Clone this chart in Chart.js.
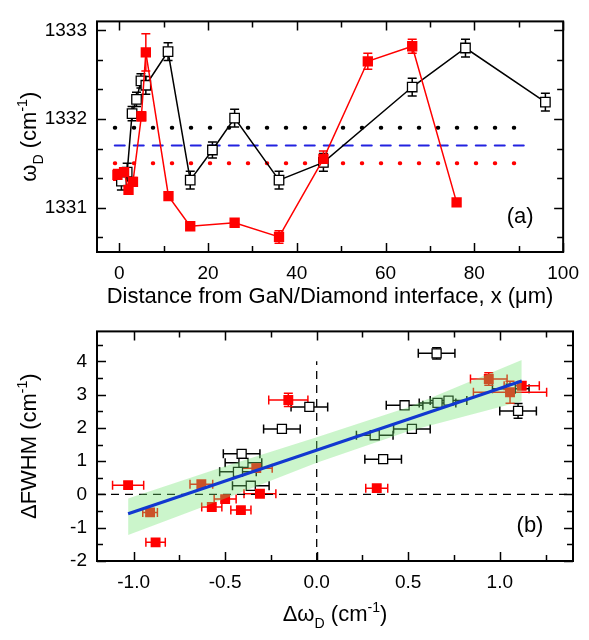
<!DOCTYPE html>
<html>
<head>
<meta charset="utf-8">
<title>Raman shift vs distance</title>
<script src="https://cdn.jsdelivr.net/npm/chart.js@4.4.1/dist/chart.umd.min.js"></script>
<style>
  html, body { margin: 0; padding: 0; background: #fff; }
  #wrap { position: relative; width: 589px; height: 640px; }
  canvas { position: absolute; left: 0; }
  #cTop { top: 0; }
  #cBot { top: 310px; }
</style>
</head>
<body>
<div id="wrap">
  <canvas id="cTop" width="589" height="310"></canvas>
  <canvas id="cBot" width="589" height="330"></canvas>
</div>
<script>
// ---------- (a) omega_D vs distance ----------
const distOpen   = [0.5, 1.8, 2.9, 3.9, 4.9, 6.0, 11, 16, 21, 26, 36, 46, 66, 78, 96];
const omegaOpen  = [1331.30, 1331.40, 1332.06, 1332.22, 1332.43, 1332.38, 1332.76, 1331.31, 1331.65, 1332.01, 1331.31, 1331.51, 1332.36, 1332.80, 1332.19];
const errOpen    = [0.1, 0.1, 0.08, 0.08, 0.08, 0.1, 0.1, 0.1, 0.09, 0.1, 0.1, 0.1, 0.1, 0.1, 0.1];

const distFilled  = [-0.4, 1.1, 2.1, 3.1, 5.0, 6.0, 11.1, 16, 26, 36, 46, 56, 66, 76];
const omegaFilled = [1331.37, 1331.40, 1331.20, 1331.29, 1332.03, 1332.75, 1331.13, 1330.79, 1330.83, 1330.67, 1331.55, 1332.65, 1332.82, 1331.06];
const errFilled   = [0.06, 0.05, 0.05, 0.05, 0.05, 0.21, 0.03, 0.03, 0.03, 0.07, 0.09, 0.09, 0.08, 0];

// mean levels (black dotted, blue dashed, red dotted) and their x extent
const refLevels = [1331.9, 1331.7, 1331.5];
const refSpan   = [-1, 93];

const topXTicks = [0, 20, 40, 60, 80, 100];
const topYTicks = [1331, 1332, 1333];

// ---------- (b) dFWHM vs d omega_D ----------
const dwFilled    = [-1.03, -0.91, -0.88, -0.63, -0.573, -0.50, -0.414, -0.33, -0.31, -0.155, 0.328, 0.94, 1.056, 1.12];
const dfFilled    = [0.28, -0.54, -1.44, 0.31, -0.375, -0.14, -0.47, 0.79, 0.02, 2.84, 0.19, 3.47, 3.07, 3.27];
const dwErrFilled = [0.085, 0.04, 0.053, 0.062, 0.055, 0.06, 0.055, 0.087, 0.087, 0.107, 0.06, 0.1, 0.2, 0.096];
const dfErrFilled = [0.1, 0.1, 0.08, 0.1, 0.08, 0.08, 0.08, 0.12, 0.08, 0.2, 0.08, 0.19, 0.33, 0.12];

const dwOpen    = [-0.41, -0.40, -0.43, -0.36, -0.19, -0.04, 0.317, 0.363, 0.48, 0.52, 0.66, 0.72, 0.655, 1.06, 1.10];
const dfOpen    = [1.22, 0.95, 0.68, 0.26, 1.97, 2.63, 1.78, 1.06, 2.68, 1.97, 2.75, 2.82, 4.24, 3.18, 2.51];
const dwErrOpen = [0.1, 0.1, 0.1, 0.1, 0.1, 0.1, 0.1, 0.1, 0.1, 0.1, 0.1, 0.1, 0.1, 0.1, 0.1];
const dfErrOpen = [0.1, 0.1, 0.1, 0.08, 0.08, 0.1, 0.1, 0.08, 0.1, 0.1, 0.1, 0.1, 0.17, 0.1, 0.22];

// linear fit and its confidence band
const fitX = [-1.03, 1.12];
const fitY = [-0.58, 3.41];
const bandX     = [-1.03, -0.5, 0, 0.5, 1.12];
const bandUpper = [-0.12, 0.85, 1.72, 2.62, 4.04];
const bandLower = [-1.22, -0.12, 0.95, 1.90, 2.80];

const zeroH = [-1.2, 1.4];   // horizontal dashed line at 0
const zeroV = [-2, 4];       // vertical dashed line at 0

const botXTicks = [-1.0, -0.5, 0.0, 0.5, 1.0];
const botYTicks = [-2, -1, 0, 1, 2, 3, 4];

const FONT = "'Liberation Sans', Arial, sans-serif";
const RED = '#ff0000';

const pts = (xs, ys) => xs.map((v, i) => ({ x: v, y: ys[i] }));

// texte avec indice / exposant
function drawRich(ctx, parts, size, center, base, vertical) {
  ctx.save();
  if (vertical) {
    ctx.translate(base, center);
    ctx.rotate(-Math.PI / 2);
    center = 0; base = 0;
  }
  const small = size * 0.64;
  let total = 0;
  const widths = parts.map(p => {
    ctx.font = (p[1] ? small : size) + 'px ' + FONT;
    const w = ctx.measureText(p[0]).width;
    total += w;
    return w;
  });
  let x = center - total / 2;
  ctx.fillStyle = '#000';
  ctx.textBaseline = 'alphabetic';
  ctx.textAlign = 'left';
  parts.forEach((p, i) => {
    ctx.font = (p[1] ? small : size) + 'px ' + FONT;
    let dy = 0;
    if (p[1] === 'sub') dy = size * 0.3;
    if (p[1] === 'sup') dy = -size * 0.42;
    ctx.fillText(p[0], x, base + dy);
    x += widths[i];
  });
  ctx.restore();
}

// barres d'erreur (sous les symboles)
const errorBars = {
  id: 'errorBars',
  beforeDatasetsDraw(chart) {
    const { ctx, chartArea: a, scales: { x, y } } = chart;
    ctx.save();
    ctx.beginPath();
    ctx.rect(a.left, a.top, a.right - a.left, a.bottom - a.top);
    ctx.clip();
    chart.data.datasets.forEach(ds => {
      if (!ds.errY && !ds.errX) return;
      ctx.strokeStyle = ds.borderColor;
      ctx.lineWidth = 1.5;
      const cap = 4.5;
      ds.data.forEach((p, j) => {
        const px = x.getPixelForValue(p.x);
        const py = y.getPixelForValue(p.y);
        const ey = ds.errY ? ds.errY[j] : 0;
        const ex = ds.errX ? ds.errX[j] : 0;
        ctx.beginPath();
        if (ey > 0) {
          const y1 = y.getPixelForValue(p.y + ey), y2 = y.getPixelForValue(p.y - ey);
          ctx.moveTo(px, y1); ctx.lineTo(px, y2);
          ctx.moveTo(px - cap, y1); ctx.lineTo(px + cap, y1);
          ctx.moveTo(px - cap, y2); ctx.lineTo(px + cap, y2);
        }
        if (ex > 0) {
          const x1 = x.getPixelForValue(p.x - ex), x2 = x.getPixelForValue(p.x + ex);
          ctx.moveTo(x1, py); ctx.lineTo(x2, py);
          ctx.moveTo(x1, py - cap); ctx.lineTo(x1, py + cap);
          ctx.moveTo(x2, py - cap); ctx.lineTo(x2, py + cap);
        }
        ctx.stroke();
      });
    });
    ctx.restore();
  }
};

// cadre, graduations vers l'intérieur, titres d'axes, étiquette du panneau
const decor = {
  id: 'decor',
  afterDraw(chart, args, o) {
    const { ctx, chartArea: a, scales: { x, y } } = chart;
    ctx.save();
    ctx.strokeStyle = '#000';
    ctx.lineWidth = 1.5;
    const major = 9, minor = 6;
    const steps = (sc, step) => {
      const out = [];
      for (let k = Math.ceil(sc.min / step - 1e-6); k * step <= sc.max + 1e-9; k++) out.push(k * step);
      return out;
    };
    const isMajor = (v, list) => list.some(t => Math.abs(t - v) < 1e-6);
    ctx.beginPath();
    steps(x, o.xMinor).forEach(v => {
      const len = isMajor(v, o.xTicks) ? major : minor;
      const px = Math.round(x.getPixelForValue(v)) + 0.5;
      ctx.moveTo(px, a.bottom); ctx.lineTo(px, a.bottom - len);
      ctx.moveTo(px, a.top); ctx.lineTo(px, a.top + len);
    });
    steps(y, o.yMinor).forEach(v => {
      const len = isMajor(v, o.yTicks) ? major : minor;
      const py = Math.round(y.getPixelForValue(v)) + 0.5;
      ctx.moveTo(a.left, py); ctx.lineTo(a.left + len, py);
      ctx.moveTo(a.right, py); ctx.lineTo(a.right - len, py);
    });
    ctx.stroke();
    ctx.lineWidth = 2;
    ctx.strokeRect(a.left, a.top, a.right - a.left, a.bottom - a.top);

    drawRich(ctx, o.xTitle, 22, (a.left + a.right) / 2, o.xTitleBase, false);
    drawRich(ctx, o.yTitle, 22, (a.top + a.bottom) / 2, 36, true);

    ctx.font = '22px ' + FONT;
    ctx.fillStyle = '#000';
    ctx.textAlign = 'center';
    ctx.textBaseline = 'middle';
    ctx.fillText(o.label, a.right - 43, a.bottom - 35);
    ctx.restore();
  }
};

function axis(min, max, ticks, fmt, fit) {
  return {
    type: 'linear', min, max,
    afterBuildTicks: s => { s.ticks = ticks.map(v => ({ value: v })); },
    afterFit: fit,
    grid: { display: false, drawTicks: false },
    border: { display: false },
    ticks: {
      color: '#000', font: { family: FONT, size: 19 },
      padding: 10, maxRotation: 0, autoSkip: false,
      callback: fmt
    }
  };
}

function refLine(level, color, dash, width) {
  return {
    data: pts(refSpan, [level, level]),
    showLine: true, borderColor: color, borderWidth: width,
    borderDash: dash, borderCapStyle: 'round', pointRadius: 0, order: 5
  };
}

Chart.defaults.animation = false;
Chart.defaults.devicePixelRatio = 1;

new Chart(document.getElementById('cTop'), {
  type: 'scatter',
  data: {
    datasets: [
      refLine(refLevels[0], '#000', [0.5, 18.5], 4),
      refLine(refLevels[1], '#2222e0', [10, 9], 2),
      refLine(refLevels[2], RED, [0.5, 18.5], 4),
      {
        data: pts(distOpen, omegaOpen), errY: errOpen,
        showLine: true, borderColor: '#000', borderWidth: 1.5,
        pointStyle: 'rect', pointRadius: 6.7,
        pointBackgroundColor: '#fff', pointBorderColor: '#000', pointBorderWidth: 1.3,
        order: 2
      },
      {
        data: pts(distFilled, omegaFilled), errY: errFilled,
        showLine: true, borderColor: RED, borderWidth: 1.5,
        pointStyle: 'rect', pointRadius: 7.3,
        pointBackgroundColor: RED, pointBorderColor: RED, pointBorderWidth: 0,
        order: 1
      }
    ]
  },
  options: {
    responsive: false,
    layout: { padding: { top: 6, right: 16, bottom: 0, left: 0 } },
    scales: {
      x: axis(-5, 100, topXTicks, v => String(v), s => { s.height = 58; }),
      y: axis(1330.5, 1333.1, topYTicks, v => String(v), s => { s.width = 97; })
    },
    plugins: {
      legend: { display: false },
      tooltip: { enabled: false },
      decor: {
        xTicks: topXTicks, yTicks: topYTicks, xMinor: 10, yMinor: 1 / 3,
        xTitle: [['Distance from GaN/Diamond interface, x (μm)', 0]],
        yTitle: [['ω', 0], ['D', 'sub'], [' (cm', 0], ['-1', 'sup'], [')', 0]],
        xTitleBase: 303, label: '(a)'
      }
    }
  },
  plugins: [errorBars, decor]
});

new Chart(document.getElementById('cBot'), {
  type: 'scatter',
  data: {
    datasets: [
      {
        data: pts(zeroH, [0, 0]), showLine: true, borderColor: '#000',
        borderWidth: 1.3, borderDash: [8, 6], pointRadius: 0, order: 6
      },
      {
        data: pts([0, 0], zeroV), showLine: true, borderColor: '#000',
        borderWidth: 1.3, borderDash: [8, 6], pointRadius: 0, order: 6
      },
      {
        data: pts(dwOpen, dfOpen), errX: dwErrOpen, errY: dfErrOpen,
        borderColor: '#000', pointStyle: 'rect', pointRadius: 6.4,
        pointBackgroundColor: '#fff', pointBorderColor: '#000', pointBorderWidth: 1.3,
        order: 4
      },
      {
        data: pts(dwFilled, dfFilled), errX: dwErrFilled, errY: dfErrFilled,
        borderColor: RED, pointStyle: 'rect', pointRadius: 7,
        pointBackgroundColor: RED, pointBorderColor: RED, pointBorderWidth: 0,
        order: 3
      },
      {
        data: pts(bandX, bandUpper), showLine: true, borderWidth: 0,
        borderColor: 'rgba(0,0,0,0)', pointRadius: 0,
        fill: '+1', backgroundColor: 'rgba(110,228,110,0.36)', order: 1
      },
      {
        data: pts(bandX, bandLower), showLine: true, borderWidth: 0,
        borderColor: 'rgba(0,0,0,0)', pointRadius: 0, fill: false, order: 1
      },
      {
        data: pts(fitX, fitY), showLine: true, borderColor: '#1238d0',
        borderWidth: 3, pointRadius: 0, order: 0
      }
    ]
  },
  options: {
    responsive: false,
    layout: { padding: { top: 5, right: 16, bottom: 0, left: 0 } },
    scales: {
      x: axis(-1.2, 1.4, botXTicks, v => v.toFixed(1), s => { s.height = 79; }),
      y: axis(-2, 4.9, botYTicks, v => String(v), s => { s.width = 97; })
    },
    plugins: {
      legend: { display: false },
      tooltip: { enabled: false },
      decor: {
        xTicks: botXTicks, yTicks: botYTicks, xMinor: 0.25, yMinor: 0.5,
        xTitle: [['Δω', 0], ['D', 'sub'], [' (cm', 0], ['-1', 'sup'], [')', 0]],
        yTitle: [['ΔFWHM (cm', 0], ['-1', 'sup'], [')', 0]],
        xTitleBase: 311, label: '(b)'
      }
    }
  },
  plugins: [errorBars, decor]
});
</script>
</body>
</html>
